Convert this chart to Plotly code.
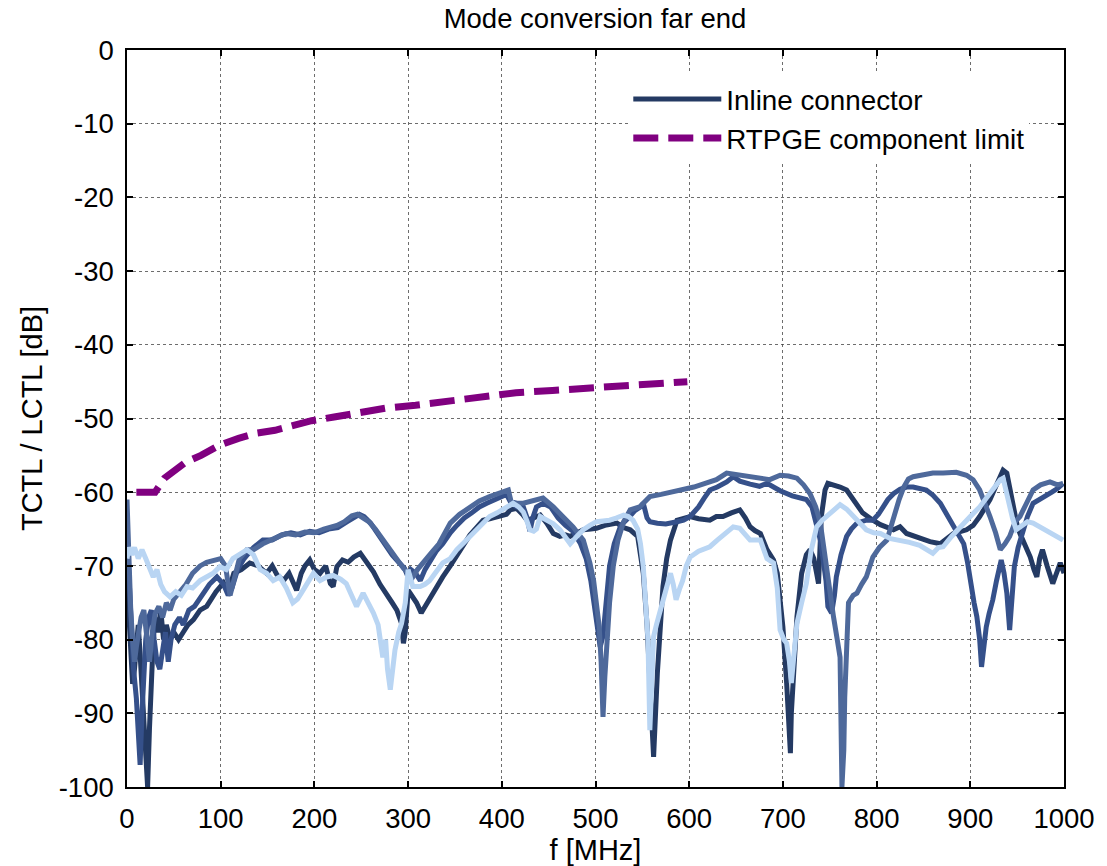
import plotly.graph_objects as go

# ---------------- data ----------------
limit_f = [10, 20, 30, 40, 51, 63, 79, 99, 119, 138, 158, 178, 197, 221, 245, 276,
           308, 347, 383, 415, 454, 490, 521, 561, 598]
limit_v = [-60.0, -60.0, -60.0, -58.1, -57.0, -55.9, -55.0, -53.6, -52.7, -52.0, -51.6, -50.9,
           -50.3, -49.8, -49.2, -48.6, -48.2, -47.6, -47.0, -46.5, -46.2, -45.9, -45.6, -45.3, -45.0]

d_f = [0, 2, 4, 6, 8, 10, 12, 14, 17, 20, 22, 24, 26, 28, 30, 33, 36, 39, 42, 46, 50, 55, 60, 65,
       71, 78, 85, 89, 95, 103, 108, 114, 122, 131, 140, 149, 155, 160, 167, 173, 178, 181, 186,
       190, 195, 200, 206, 212, 217, 220, 224, 230, 236, 242, 249, 256, 263, 270, 277, 283, 288,
       293, 295, 297, 300, 304, 309, 314, 318, 323, 330, 337, 345, 352, 360, 366, 373, 380, 387,
       395, 405, 409, 416, 422, 427, 434, 441, 448, 455, 462, 468, 473, 480, 487, 495, 501, 510,
       523, 530, 537, 545, 551, 555, 558, 562, 566, 569, 572, 576, 580, 587, 594, 601, 610, 622,
       629, 636, 645, 654, 660, 665, 670, 676, 683, 690, 694, 697, 700, 704, 708, 709, 712, 715,
       720, 725, 729, 733, 736, 738, 741, 745, 748, 755, 761, 768, 775, 780, 785, 796, 804, 818,
       825, 832, 846, 857, 868, 875, 882, 896, 903, 910, 916, 921, 928, 935, 939, 943, 946, 950,
       953, 958, 964, 968, 971, 974, 977, 982, 988, 992, 996, 1000]
d_v = [-72, -76, -80, -86, -84, -80, -78, -82, -88, -95, -100, -92, -84, -80, -77, -79, -76, -80,
       -78, -80, -79, -80, -79, -78, -77.3, -76, -75.5, -74.6, -73.5, -72.3, -73.5, -71, -70.5,
       -69.6, -70, -71, -70, -71.2, -72, -71, -72.3, -73.3, -71, -70, -69.2, -70.5, -71, -70,
       -72.4, -72.8, -70.1, -69.2, -69.5, -68.8, -68.3, -69.5, -70.8, -72.5, -74, -75, -76,
       -77.8, -80.5, -79, -73.3, -74, -75, -76.4, -75.5, -74.6, -73, -71.5, -70, -68.5, -67,
       -65.8, -64.8, -63.8, -63.6, -63.3, -63, -62.4, -62.2, -63, -63.8, -63.5, -63.1, -64.2,
       -65.6, -66, -65.8, -66, -65.5, -65.1, -65, -64.9, -64.5, -64.2, -64.8, -65.1, -66, -71,
       -78, -84.6, -95.9, -84.6, -78, -72.8, -69, -66.5, -63.8, -63.5, -63.3, -63.6, -63.8,
       -63.3, -63.3, -62.8, -62.4, -63.5, -64.7, -65.2, -65.6, -67.8, -69.2, -71, -74.2, -78.3,
       -85.9, -95.4, -90, -82, -76.9, -71, -68.5, -67.8, -69, -71, -72.4, -63.3, -59.7, -58.8,
       -59, -59.3, -59.7, -61, -62, -62.8, -63.8, -64.4, -65.1, -64.7, -65.6, -66.3, -66.7, -67,
       -66.2, -65.6, -65.1, -64.5, -63.3, -62.2, -61, -59, -57, -57.4, -60, -62.4, -64.5, -65.6,
       -67, -68.8, -70.5, -71.5, -69, -67.8, -70, -72.4, -71, -69.6, -71]

m_f = [0, 2, 4, 7, 10, 12, 14, 16, 18, 20, 23, 26, 29, 32, 35, 38, 41, 44, 47, 51, 56, 60, 66,
       72, 80, 88, 96, 103, 108, 112, 118, 125, 135, 145, 155, 165, 175, 185, 195, 205, 215,
       225, 235, 242, 248, 253, 260, 267, 275, 283, 290, 296, 300, 303, 308, 313, 318, 323, 330,
       337, 345, 352, 360, 368, 376, 384, 392, 400, 405, 410, 416, 423, 427, 430, 433, 437, 444,
       452, 460, 468, 476, 484, 490, 495, 499, 502, 505, 508, 511, 515, 520, 527, 535, 542, 548,
       551, 555, 558, 566, 575, 587, 594, 601, 610, 616, 622, 630, 640, 647, 654, 665, 675, 683,
       697, 710, 725, 731, 736, 740, 743, 746, 748, 752, 755, 757, 762, 768, 773, 779, 789, 796,
       802, 807, 812, 818, 825, 832, 839, 853, 860, 868, 875, 882, 888, 893, 897, 900, 904, 907,
       910, 912, 914, 917, 920, 924, 928, 933, 936, 939, 942, 945, 947, 951, 956, 961, 967, 974,
       981, 987, 993, 999]
m_v = [-66, -72, -78, -84, -88, -92, -97, -90, -84, -80, -77, -76, -80, -83, -84, -81, -79, -83,
       -80, -78, -77, -78, -76, -75.5, -74, -72.5, -71.5, -72.5, -74, -73, -70.5, -69, -67.5,
       -66.5, -66.5, -65.8, -65.5, -65.8, -65.3, -65.5, -65, -64.8, -64, -63.5, -63, -63.3,
       -64.2, -65.5, -67, -68.5, -69.5, -70.3, -71.5, -70.5, -71, -72, -70.5, -69.5, -68, -67,
       -65.5, -64.5, -63.5, -62.8, -62, -61.5, -61, -60.6, -60.3, -61.5, -62, -62, -63.5, -65.3,
       -63.5, -62, -61.5, -62, -63.5, -64.5, -65.3, -67, -69, -72, -75.5, -78.5, -81, -79.5,
       -75, -70, -67, -64.5, -63.5, -62.5, -62, -61.5, -63.5, -64, -64.2, -64.3, -64, -63.8,
       -63.3, -62, -60.8, -59.7, -59.3, -58.6, -57.9, -58.5, -58.9, -59.2, -58.8, -59.8, -60.5,
       -61, -62, -64.2, -66.5, -69.2, -72, -75.5, -76.4, -74, -71.5, -68.5, -66, -65, -64.2,
       -63.8, -63.8, -63, -62, -61, -60.2, -59.6, -59.3, -59.3, -59.7, -60.4, -61.5, -63, -64.7,
       -66, -67, -69.5, -72.4, -75, -76.9, -80, -83.7, -81, -78.3, -76.5, -74.6, -72, -69.2,
       -71, -73.7, -78.7, -74, -70.1, -67.5, -65.1, -63.3, -61.5, -61, -60.6, -60, -59.5, -58.8]

b_f = [0, 1, 2, 4, 6, 8, 10, 12, 15, 18, 21, 24, 27, 30, 34, 38, 42, 46, 50, 57, 63, 70, 78,
       85, 92, 100, 105, 110, 114, 120, 128, 135, 145, 155, 162, 170, 180, 190, 200, 210, 224,
       232, 240, 246, 252, 258, 265, 272, 280, 288, 295, 300, 305, 310, 317, 325, 333, 340, 345,
       355, 366, 376, 387, 397, 404, 407, 410, 416, 423, 433, 444, 455, 465, 476, 487, 494, 498,
       501, 504, 506, 508, 510, 512, 515, 519, 524, 530, 537, 547, 558, 570, 582, 593, 605, 617,
       629, 640, 650, 665, 676, 686, 697, 706, 715, 722, 729, 735, 740, 744, 747, 751, 754, 758,
       761, 763, 765, 766, 768, 770, 775, 779, 784, 789, 796, 803, 811, 818, 824, 829, 834, 839,
       850, 860, 871, 885, 896, 903, 910, 916, 921, 927, 932, 937, 942, 948, 953, 960, 967, 975,
       985, 993, 999]
b_v = [-61, -65, -70, -76, -80, -83, -81, -79, -77, -76, -80, -83, -79, -76.5, -75.5, -77, -75,
       -76, -74.5, -73.3, -72.5, -71, -70, -69.5, -69.2, -69, -70, -74, -72, -69, -67.8, -67.8,
       -67, -66.3, -66, -65.6, -65.8, -65.4, -65.5, -65, -64.5, -64, -63.2, -63, -63.5, -64, -65,
       -66.3, -67.5, -69, -70.3, -71, -71.5, -70.5, -69.3, -68.2, -67, -65.5, -64.2, -63, -62,
       -61.2, -60.6, -60.2, -59.8, -59.7, -61.3, -61.5, -61.5, -61.2, -60.8, -62, -63.3, -64.7,
       -66.5, -69.6, -72, -75.5, -78.3, -83, -90.5, -85, -80, -75, -70, -66.5, -64, -62.4, -62,
       -60.6, -60.3, -60, -59.7, -59.3, -58.8, -58.3, -57.4, -57.6, -57.9, -58, -58.3, -57.7,
       -57.8, -58.1, -59, -60.2, -62, -64.2, -68, -71.5, -74.5, -76.9, -80, -82.4, -100, -95,
       -87.8, -80, -75, -74, -73.7, -72.5, -71.5, -68.8, -67.5, -66.5, -63.3, -61, -59.3, -58.2,
       -57.9, -57.6, -57.4, -57.4, -57.3, -57.7, -58.3, -59.7, -61.5, -63.3, -65.5, -67.8, -67,
       -66, -64, -63.3, -61.5, -59.7, -59, -58.6, -59, -58.8]

l_f = [0, 2, 5, 8, 12, 16, 20, 24, 28, 32, 36, 40, 46, 52, 58, 64, 70, 78, 85, 92, 99, 106, 113,
       120, 128, 135, 142, 149, 156, 163, 170, 177, 182, 186, 192, 199, 206, 213, 220, 228, 234,
       240, 245, 252, 258, 263, 268, 273, 276, 278, 281, 284, 286, 290, 293, 297, 300, 305, 313,
       318, 323, 330, 337, 345, 352, 360, 366, 373, 380, 387, 395, 402, 409, 412, 418, 423, 427,
       430, 434, 437, 441, 448, 455, 462, 468, 473, 480, 487, 494, 501, 508, 515, 522, 530, 535,
       540, 545, 548, 551, 554, 556, 558, 560, 562, 565, 569, 574, 580, 583, 586, 590, 593, 597,
       601, 610, 622, 630, 640, 647, 654, 665, 676, 683, 690, 694, 697, 701, 704, 707, 709, 712,
       715, 720, 725, 730, 736, 742, 747, 755, 761, 768, 775, 782, 789, 797, 804, 815, 825, 835,
       846, 853, 860, 866, 871, 880, 889, 900, 910, 920, 928, 932, 935, 940, 945, 949, 955, 961,
       967, 975, 985, 992, 999]
l_v = [-69, -67.5, -68.5, -67.5, -69, -67.8, -69, -70.5, -71.5, -70.5, -72.5, -73.5, -74.2,
       -73.5, -74, -72.8, -73, -72, -71.5, -71, -70.1, -70.5, -69, -68.5, -67.8, -68.5, -70.5,
       -71, -72, -71.5, -73, -75, -74.5, -73.7, -72.5, -71, -72, -71.5, -71.3, -71.8, -72.4, -74,
       -75.5, -73.7, -75, -76.4, -78, -82.4, -80, -84, -86.8, -83, -81.4, -79, -77.8, -75, -70.5,
       -72.8, -72.8, -72.5, -72, -70.8, -69.6, -69, -67.8, -66.8, -66, -65, -64, -63.3, -62.8,
       -62.3, -61.7, -61.5, -62, -62.7, -64, -65.1, -65.3, -65, -63.3, -63.8, -64.3, -65.1, -66,
       -67, -66, -65.1, -64.5, -64, -63.9, -63.8, -63.5, -63.1, -63.3, -63.8, -65, -67, -70.1,
       -75, -80, -92.3, -86, -79.6, -78, -76, -73.5, -71, -72.5, -74.6, -73, -72, -70, -68.8,
       -68, -67.4, -66.5, -65.5, -64.7, -64.9, -66.5, -66.5, -69, -69.6, -73, -78.7, -80, -80.5,
       -83, -85.9, -82, -77.8, -75, -72.4, -68, -64.7, -63.8, -63.3, -62.3, -61.7, -62.3, -63.3,
       -64.3, -65.1, -65.5, -65.6, -66.3, -66.5, -66.8, -67.2, -67.8, -68.3, -67.5, -67.4, -66,
       -64.7, -63.3, -62, -60.3, -59, -58.3, -58.1, -61, -63.5, -65.1, -64.5, -64, -64.2, -64.8,
       -65.4, -66, -66.5]

x_ticks = [0, 100, 200, 300, 400, 500, 600, 700, 800, 900, 1000]
y_ticks = [0, -10, -20, -30, -40, -50, -60, -70, -80, -90, -100]

FONT = "Liberation Sans, Arial, sans-serif"

fig = go.Figure()
series = [
    (d_f, d_v, "#243a63", True),
    (m_f, m_v, "#35508a", False),
    (b_f, b_v, "#4e699b", False),
    (l_f, l_v, "#b9d5f3", False),
]
for fx, fy, col, show in series:
    fig.add_trace(go.Scatter(
        x=fx, y=fy, mode="lines", name="Inline connector",
        line=dict(color=col, width=5), showlegend=show, legendgroup="a"))

fig.add_trace(go.Scatter(
    x=limit_f, y=limit_v, mode="lines", name="RTPGE component limit",
    line=dict(color="#800080", width=7, dash="25px,10px"), legendgroup="b"))

axis_common = dict(
    showline=True, linecolor="black", linewidth=1.5, mirror="ticks",
    ticks="inside", ticklen=6, tickcolor="black", tickwidth=1.5,
    showgrid=True, gridcolor="rgba(60,60,60,0.75)", griddash="dot", gridwidth=1,
    zeroline=False, automargin=False,
    tickfont=dict(family=FONT, size=27.5, color="black"),
)

fig.update_layout(
    width=1107, height=866,
    margin=dict(l=127, r=43, t=50, b=79),
    paper_bgcolor="white", plot_bgcolor="white",
    title=dict(text="Mode conversion far end", x=0.5375, xanchor="center", y=0.979,
               yanchor="middle", font=dict(family=FONT, size=27.5, color="black")),
    xaxis=dict(range=[0, 1000], tickvals=x_ticks, ticktext=[str(v) for v in x_ticks],
               title=dict(text="f [MHz]", font=dict(family=FONT, size=29, color="black"),
                          standoff=9),
               ticklabelstandoff=6, **axis_common),
    yaxis=dict(range=[-100, 0], tickvals=y_ticks, ticktext=[str(v) for v in y_ticks],
               title=dict(text="TCTL / LCTL [dB]", font=dict(family=FONT, size=29, color="black"),
                          standoff=8),
               ticklabelstandoff=6, **axis_common),
    legend=dict(x=0.535, y=0.967, xanchor="left", yanchor="top",
                bgcolor="white", borderwidth=0,
                font=dict(family=FONT, size=27.8, color="black"),
                itemwidth=88, tracegroupgap=0, traceorder="grouped"),
    showlegend=True,
)

fig.write_html("out.html")
